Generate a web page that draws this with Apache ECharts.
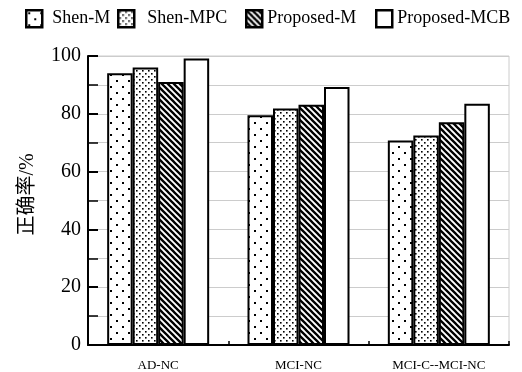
<!DOCTYPE html>
<html>
<head>
<meta charset="utf-8">
<script src="https://cdn.jsdelivr.net/npm/echarts@6/dist/echarts.min.js"></script>
<style>html,body{margin:0;padding:0;background:#fff;}#c{width:522px;height:372px;}</style>
</head>
<body>
<div id="c"></div>
<script>
var categories = ['AD-NC', 'MCI-NC', 'MCI-C--MCI-NC'];
var seriesNames = ['Shen-M', 'Shen-MPC', 'Proposed-M', 'Proposed-MCB'];
var shenM = [94, 79.5, 70.8];
var shenMPC = [96, 81.8, 72.5];
var proposedM = [91, 83.1, 77.1];
var proposedMCB = [99.1, 89.3, 83.5];
var yTicks = [0, 20, 40, 60, 80, 100];

function pattern(type) {
  var c = document.createElement('canvas');
  var ctx;
  if (type === 'sparse') {
    c.width = 12; c.height = 12; ctx = c.getContext('2d');
    ctx.fillStyle = '#fff'; ctx.fillRect(0, 0, 12, 12);
    ctx.fillStyle = '#000';
    ctx.fillRect(2, 2, 2, 2); ctx.fillRect(8, 8, 2, 2);
  } else if (type === 'dense') {
    c.width = 6; c.height = 6; ctx = c.getContext('2d');
    ctx.fillStyle = '#fff'; ctx.fillRect(0, 0, 6, 6);
    ctx.fillStyle = '#000';
    ctx.fillRect(1, 1, 1.6, 1.6); ctx.fillRect(4, 4, 1.6, 1.6);
  } else if (type === 'stripe') {
    c.width = 6; c.height = 6; ctx = c.getContext('2d');
    ctx.fillStyle = '#fff'; ctx.fillRect(0, 0, 6, 6);
    ctx.strokeStyle = '#000'; ctx.lineWidth = 2.3;
    ctx.beginPath();
    ctx.moveTo(-1, -1); ctx.lineTo(7, 7);
    ctx.moveTo(-4, 2); ctx.lineTo(4, 10);
    ctx.moveTo(2, -4); ctx.lineTo(10, 4);
    ctx.stroke();
  } else {
    c.width = 4; c.height = 4; ctx = c.getContext('2d');
    ctx.fillStyle = '#fff'; ctx.fillRect(0, 0, 4, 4);
  }
  return { image: c, repeat: 'repeat' };
}

var fills = [pattern('sparse'), pattern('dense'), pattern('stripe'), pattern('white')];
var dataSets = [shenM, shenMPC, proposedM, proposedMCB];
var serif = "'Liberation Serif', 'Times New Roman', serif";

var legendLefts = [25, 117, 245, 375];
var legendTextPad = [5, 8, 0, 0];
var legends = seriesNames.map(function (n, i) {
  return {
    data: [n], left: legendLefts[i], top: 9, padding: 0,
    icon: 'rect',
    itemWidth: 16, itemHeight: 17,
    itemStyle: { borderColor: '#000', borderWidth: 2.5 },
    textStyle: { fontFamily: serif, fontSize: 18, color: '#000', padding: [0, 0, 0, legendTextPad[i]] },
    selectedMode: false
  };
});

var series = seriesNames.map(function (n, i) {
  return {
    name: n, type: 'bar', data: dataSets[i],
    barWidth: 25.5, barGap: '0%',
    itemStyle: { color: fills[i], borderColor: '#000', borderWidth: 2 },
    emphasis: { disabled: true },
    animation: false
  };
});

var chart = echarts.init(document.getElementById('c'), null, { renderer: 'canvas' });
chart.setOption({
  animation: false,
  backgroundColor: '#fff',
  legend: legends,
  grid: { left: 88, right: 13, top: 56, bottom: 27, show: true, borderColor: '#cccccc', borderWidth: 1 },
  xAxis: {
    type: 'category', data: categories,
    axisLine: { lineStyle: { color: '#000', width: 2 } },
    axisTick: { show: true, inside: true, length: 4, lineStyle: { color: '#000', width: 1.5 } },
    axisLabel: { fontFamily: serif, fontSize: 13, color: '#000', margin: 14 }
  },
  yAxis: {
    type: 'value', min: 0, max: 100, interval: 20,
    name: '正确率/%', nameLocation: 'middle', nameGap: 50, nameRotate: 90,
    nameTextStyle: { fontFamily: "'Liberation Serif', 'Noto Sans CJK SC', serif", fontSize: 20, color: '#000', padding: [0, 0, 0, 12] },
    axisLine: { show: true, lineStyle: { color: '#000', width: 2 } },
    axisTick: { show: true, inside: true, length: 10, lineStyle: { color: '#000', width: 2 } },
    minorTick: { show: true, splitNumber: 2, length: 10, lineStyle: { color: '#000', width: 1.5 } },
    splitLine: { show: true, lineStyle: { color: '#cccccc', width: 1 } },
    minorSplitLine: { show: true, lineStyle: { color: '#cccccc', width: 1 } },
    axisLabel: {
      fontFamily: serif, fontSize: 20, color: '#000', margin: 7,
      formatter: function (v) { return yTicks.indexOf(v) >= 0 ? String(v) : ''; }
    }
  },
  series: series
});
</script>
</body>
</html>
